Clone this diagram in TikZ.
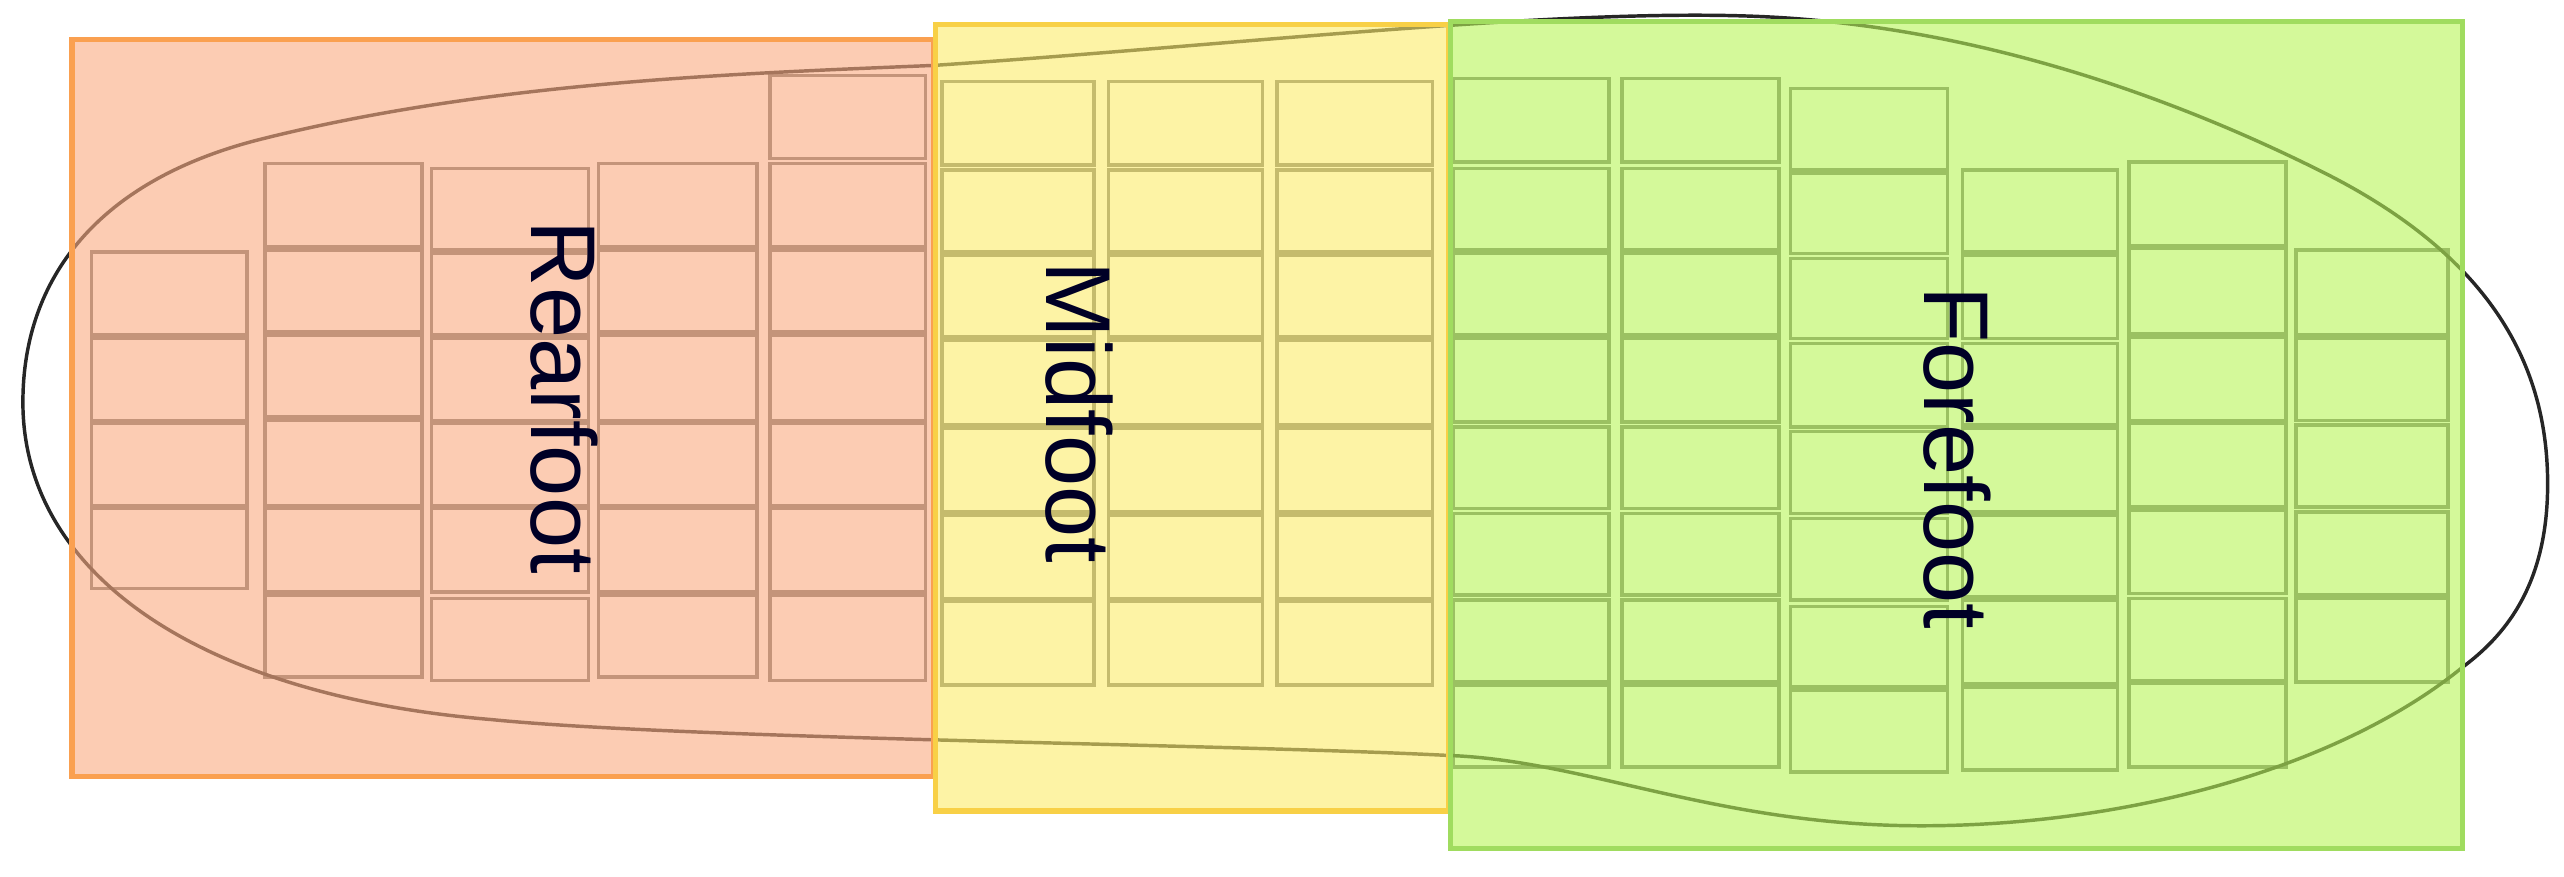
\documentclass[tikz,border=0pt]{standalone}
\usepackage{fontspec}
\setmainfont{Liberation Sans}
\begin{document}
\begin{tikzpicture}[x=0.01cm,y=-0.01cm,
  cellbox/.style={draw=black!55, line width=0.6pt},
  regfill/.style={fill opacity=0.6},
  lbl/.style={rotate=-90, font=\fontsize{16}{18}\selectfont, text=black!85!blue}]
\useasboundingbox (0,0) rectangle (1568,536);
% cells
\foreach \xa/\xb/\ys in {
 56/151/{154/205,207/257,259/309,311/360},
 162/258/{100/151,153/203,205/255,257/309,311/362,364/414},
 264/360/{103/153,155/205,207/257,259/309,311/362,366/416},
 366/463/{100/151,153/203,205/257,259/309,311/362,364/414},
 471/566/{46/97,100/151,153/203,205/257,259/309,311/362,364/416},
 576/669/{50/101,104/154,156/206,208/260,262/313,315/366,368/419},
 678/772/{50/101,104/154,156/206,208/260,262/313,315/366,368/419},
 781/876/{50/101,104/154,156/206,208/260,262/313,315/366,368/419},
 889/984/{48/99,103/153,155/205,207/258,261/311,314/364,367/417,419/469},
 992/1088/{48/99,103/153,155/205,207/258,261/311,314/364,367/417,419/469},
 1095/1191/{54/104,106/155,158/207,210/261,264/314,317/367,371/420,422/472},
 1200/1295/{104/154,156/207,210/260,262/313,315/365,367/418,420/471},
 1302/1398/{99/150,152/204,206/257,259/310,312/363,366/416,418/469},
 1404/1497/{153/205,207/257,260/310,313/364,366/417}}{
  \foreach \ya/\yb in \ys { \draw[cellbox] (\xa,\ya) rectangle (\xb,\yb); }
}
% sole outline
\draw[black!85, line width=0.6pt] (14,246)
  .. controls (14,170) and (60,110) .. (160,85)
  .. controls (300,50) and (450,45) .. (571,40)
  .. controls (750,28) and (950,5) .. (1074,10)
  .. controls (1200,15) and (1320,55) .. (1420,105)
  .. controls (1530,160) and (1558,230) .. (1558,296)
  .. controls (1558,360) and (1530,390) .. (1506,408)
  .. controls (1430,470) and (1300,505) .. (1175,505)
  .. controls (1050,505) and (970,465) .. (886,462)
  .. controls (750,455) and (420,452) .. (300,440)
  .. controls (120,425) and (14,350) .. (14,246) -- cycle;
% regions
\fill[regfill, fill={rgb,255:red,250;green,170;blue,128}] (44,24) rectangle (571,475);
\draw[line width=0.9pt, draw={rgb,255:red,250;green,160;blue,80}] (44,24) rectangle (571,475);
\fill[regfill, fill={rgb,255:red,252;green,235;blue,105}] (572,15) rectangle (886,496);
\draw[line width=0.9pt, draw={rgb,255:red,248;green,208;blue,70}] (572,15) rectangle (886,496);
\fill[regfill, fill={rgb,255:red,183;green,245;blue,87}] (887,13) rectangle (1506,519);
\draw[line width=0.9pt, draw={rgb,255:red,160;green,220;blue,95}] (887,13) rectangle (1506,519);
\node[lbl] (rear) at (345,243) {Rearfoot};
\node[lbl] (mid) at (660,252) {Midfoot};
\node[lbl] (fore) at (1197,280) {Forefoot};
\end{tikzpicture}
\end{document}
